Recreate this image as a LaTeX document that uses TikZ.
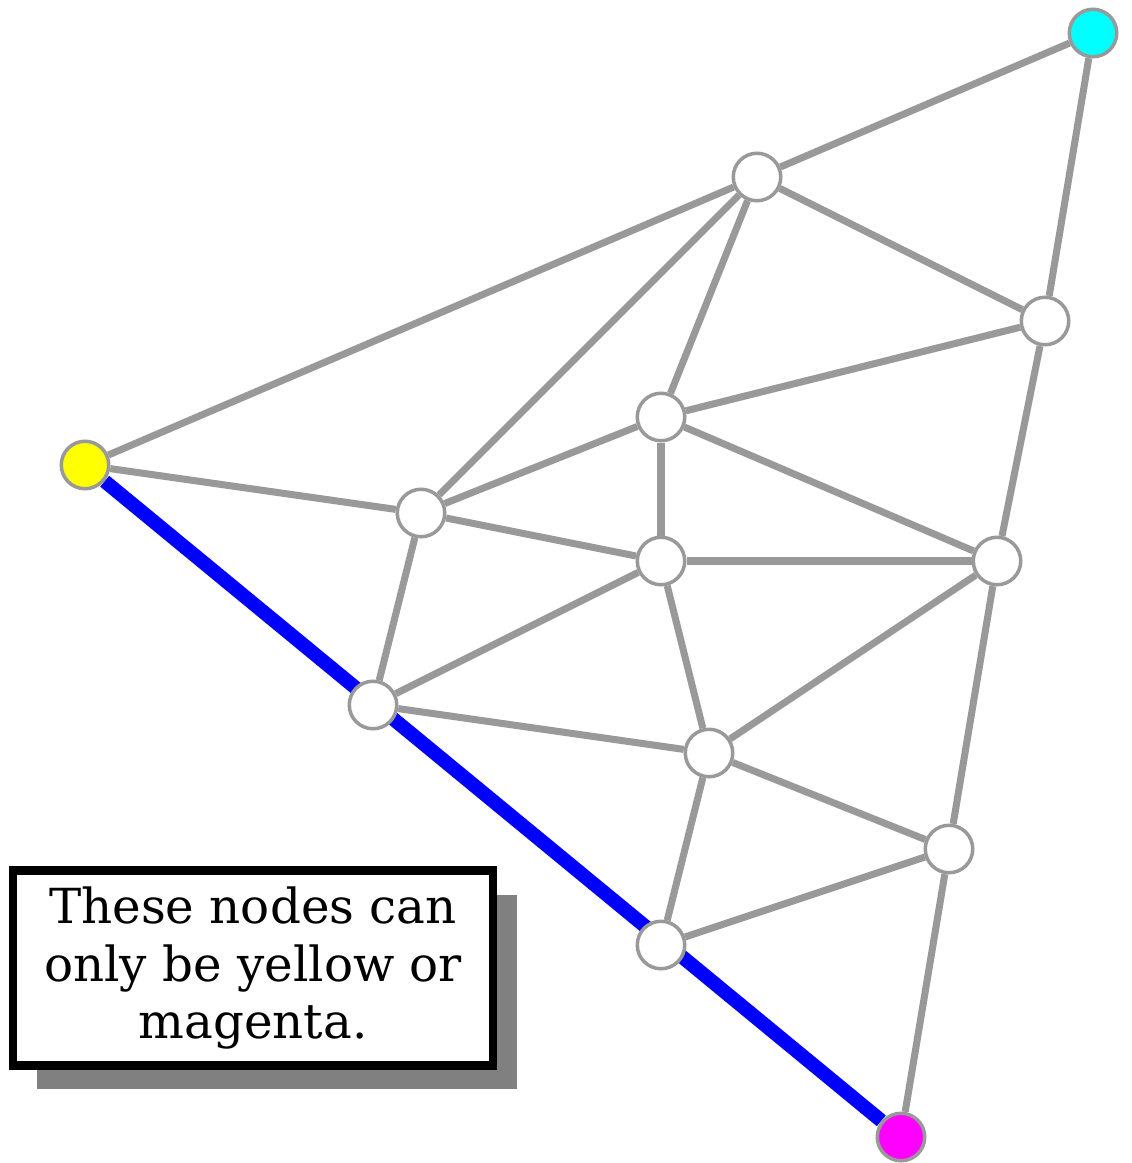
\documentclass[tikz,border=0pt]{standalone}
\usepackage{fontspec}
\setmainfont{DejaVu Serif}
\usetikzlibrary{shadows, backgrounds}
\definecolor{edgegray}{HTML}{999999}
\definecolor{pathblue}{HTML}{0000FF}
\definecolor{nodeyellow}{HTML}{FFFF00}
\definecolor{nodemagenta}{HTML}{FF00FF}
\definecolor{nodecyan}{HTML}{00FFFF}
\definecolor{shadowgray}{HTML}{808080}

\begin{document}
\begin{tikzpicture}[x=0.02cm, y=-0.02cm,
    vertex/.style={circle, draw=edgegray, line width=2pt, fill=white, minimum size=0.95cm, inner sep=0pt},
    link/.style={draw=edgegray, line width=4pt},
    notebox/.style={draw=black, fill=white, line width=4.8pt, minimum width=9.6cm, minimum height=3.9cm,
      align=center, inner sep=0pt, font=\fontsize{27.5}{33}\selectfont,
      drop shadow={shadow xshift=0.48cm, shadow yshift=-0.48cm, fill=shadowgray, opacity=1, rounded corners=2pt}}]
  \useasboundingbox (0,0) rectangle (1132,1163);

  % Vertices del grafo
  \node[vertex, fill=nodecyan] (cya) at (1093,33) {};
  \node[vertex] (v1) at (757,177) {};
  \node[vertex] (v2) at (1045,321) {};
  \node[vertex, fill=nodeyellow] (yel) at (85,465) {};
  \node[vertex] (v3) at (661,417) {};
  \node[vertex] (v4) at (421,513) {};
  \node[vertex] (v5) at (661,561) {};
  \node[vertex] (v6) at (997,561) {};
  \node[vertex] (v7) at (373,705) {};
  \node[vertex] (v8) at (709,753) {};
  \node[vertex] (v9) at (949,849) {};
  \node[vertex] (v10) at (661,945) {};
  \node[vertex, fill=nodemagenta] (mag) at (901,1137) {};

  % Aristas detras de los vertices
  \begin{scope}[on background layer]
    \foreach \a/\b in {cya/v1, cya/v2, v1/yel, v1/v4, v1/v3, v1/v2, v2/v3, v2/v6,
                       yel/v4, v3/v4, v3/v5, v3/v6, v4/v5, v4/v7, v5/v6, v5/v7, v5/v8,
                       v6/v8, v6/v9, v7/v8, v8/v9, v8/v10, v9/v10, v9/mag}
      \draw[link] (\a) -- (\b);
    \draw[pathblue, line width=8pt] (yel) -- (mag);
  \end{scope}

  % Nota
  \node[notebox] (note) at (253,968) {These nodes can\\only be yellow or\\magenta.};
\end{tikzpicture}
\end{document}
